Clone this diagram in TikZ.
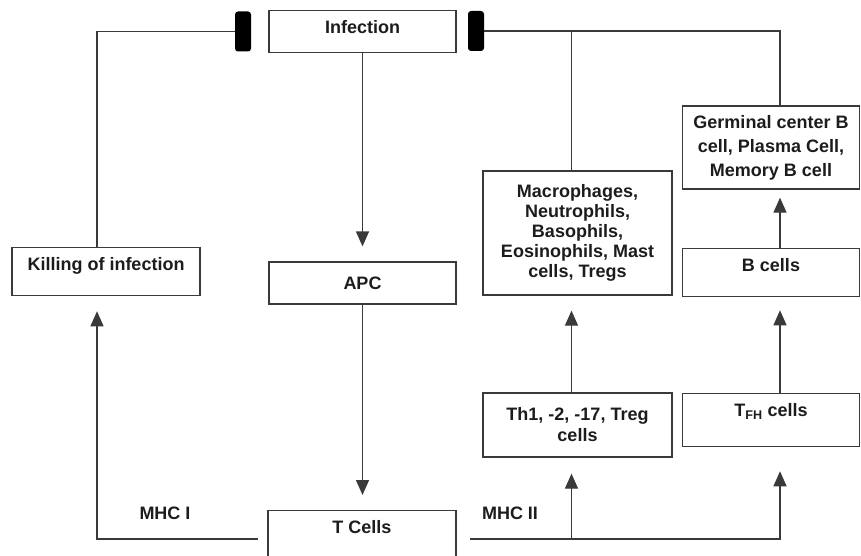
\documentclass[tikz,border=0pt]{standalone}
\usepackage{fontspec}
\setmainfont{Liberation Sans}
\usepackage{tikz}
\usepackage{xcolor}
\usetikzlibrary{arrows.meta}

\definecolor{linegray}{HTML}{3A3A3A}
\definecolor{textgray}{HTML}{1C1C1C}

\tikzset{
  box/.style={draw=linegray, line width=1.3pt, text=textgray, align=center,
    inner xsep=3pt, inner ysep=0pt, font=\fontsize{18}{20}\selectfont\bfseries},
  % single line, text sits at the top of the box
  toptext/.style={text height=13pt, text depth=#1, inner ysep=10pt, anchor=north},
  blocker/.style={fill=black, rounded corners=3pt, minimum width=16pt,
    minimum height=40pt, inner sep=0pt},
  link/.style={draw=linegray, line width=1.3pt},
  arr/.style={link, -{Triangle[length=15pt,width=13pt]}},
  lbl/.style={text=textgray, font=\fontsize{18}{20}\selectfont\bfseries}
}

\begin{document}
\begin{tikzpicture}[x=1pt, y=-1pt]
  \useasboundingbox (0,0) rectangle (861,556);
  \clip (0,0) rectangle (861,556);

  \node[box, toptext=9pt, minimum width=187pt] (inf) at (362.5,10) {Infection};
  \node[box, minimum width=187pt, minimum height=42pt] (apc) at (362.5,283) {APC};
  \node[box, toptext=40pt, minimum width=188pt] (tc) at (362,510) {T Cells};
  \node[box, toptext=15pt, minimum width=188pt] (kill) at (106,247) {Killing of infection};

  \node[box, minimum width=189pt, minimum height=124pt] (mac) at (577.5,233)
    {Macrophages,\\ Neutrophils,\\ Basophils,\\ Eosinophils, Mast\\ cells, Tregs};
  \node[box, minimum width=189pt, minimum height=64pt, font=\fontsize{18}{21}\selectfont\bfseries]
    (th1) at (577.5,425) {Th1, -2, -17, Treg\\ cells};

  \node[box, minimum width=177pt, minimum height=83pt, font=\fontsize{18}{24}\selectfont\bfseries]
    (germ) at (771,147.5) {Germinal center B\\ cell, Plasma Cell,\\ Memory B cell};
  \node[box, toptext=15pt, minimum width=177pt] (bcells) at (771,248) {B cells};
  \node[box, toptext=20pt, minimum width=177pt] (tfh) at (771,393) {T\textsubscript{FH} cells};

  \node[blocker] (blkL) at (243,31.5) {};
  \node[blocker] (blkR) at (476,31) {};

  \node[lbl] (mhcIlbl) at (165,513) {MHC I};
  \node[lbl] (mhcIIlbl) at (510,513) {MHC II};
  \coordinate (mhcI) at (258,539);
  \coordinate (mhcII) at (470,539);

  % inhibition of the infection
  \draw[link] (blkL.west) -| ([xshift=-9pt]kill.north);
  \draw[link] (blkR.east) -| ([xshift=9pt]germ.north);
  \draw[link] ([xshift=-6pt]mac.north |- blkR.east) -- ([xshift=-6pt]mac.north);

  % main chain
  \draw[arr, shorten >=15pt] (inf.south) -- (inf.south |- apc.north);
  \draw[arr, shorten >=15pt] (apc.south) -- (apc.south |- tc.north);

  % MHC I / MHC II
  \draw[arr, shorten >=15pt] (mhcI) -| ([xshift=-9pt]kill.south);
  \draw[arr, shorten >=24pt] (mhcII) -| ([xshift=9pt]tfh.south);
  \draw[arr, shorten >=16pt] ([xshift=-6pt]th1.south |- mhcII) -- ([xshift=-6pt]th1.south);

  \draw[arr, shorten >=15pt] ([xshift=-6pt]th1.north) -- ([xshift=-6pt]mac.south);
  \draw[arr, shorten >=13pt] ([xshift=9pt]tfh.north) -- ([xshift=9pt]bcells.south);
  \draw[arr, shorten >=8pt] ([xshift=9pt]bcells.north) -- ([xshift=9pt]germ.south);
\end{tikzpicture}
\end{document}
